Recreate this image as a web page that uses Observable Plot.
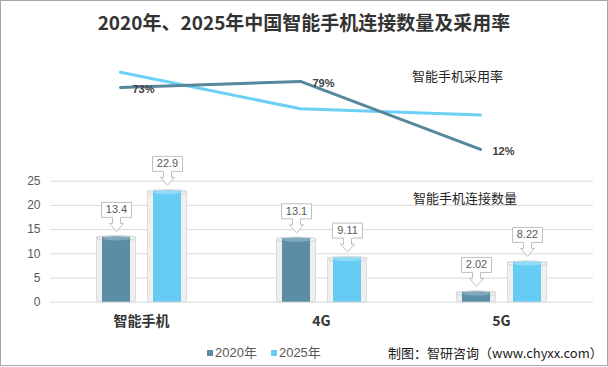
<!DOCTYPE html>
<html><head><meta charset="utf-8">
<script src="https://cdn.jsdelivr.net/npm/d3@7"></script>
<script src="https://cdn.jsdelivr.net/npm/@observablehq/plot@0.6"></script>
<style>
body{margin:0;background:#fff;}
#wrap{position:relative;width:606px;height:364px;border:1px solid #a6a6a6;overflow:hidden;background:#fff;
  font-family:"Liberation Sans","Noto Sans CJK SC",sans-serif;}
#wrap svg{position:absolute;left:-1px;top:-1px;}
.t{position:absolute;white-space:nowrap;}
#title{left:0;top:9px;width:606px;text-align:center;font-size:19px;line-height:24px;font-weight:bold;color:#333;font-family:"Noto Sans CJK SC",sans-serif;}
.note{font-size:13px;line-height:18px;color:#262626;font-family:"Noto Sans CJK SC",sans-serif;}
#legend{left:206px;top:343px;font-size:13px;line-height:18px;color:#595959;display:flex;gap:14px;font-family:"Liberation Sans","Noto Sans CJK SC",sans-serif;}
#legend span.sw{display:inline-block;width:6px;height:6px;margin-right:2px;vertical-align:1px;}
#caption{left:387px;top:342px;font-size:13px;line-height:20px;color:#1a1a1a;font-family:"Noto Sans CJK SC",sans-serif;}
</style></head><body>
<div id="wrap">
  <div class="t" id="title">2020年、2025年中国智能手机连接数量及采用率</div>
  <div class="t note" style="left:411px;top:66px;">智能手机采用率</div>
  <div class="t note" style="left:412px;top:188px;">智能手机连接数量</div>
  <div class="t" id="legend"></div>
  <div class="t" id="caption">制图：智研咨询（www.chyxx.com）</div>
</div>
<script>
const categories = ["智能手机", "4G", "5G"];
const years = ["2020年", "2025年"];
const connections2020 = [13.4, 13.1, 2.02];
const connections2025 = [22.9, 9.11, 8.22];
const adoption2020 = [73, 79, 12];
const adoption2025 = [88, 52, 46];
const yTicks = [0, 5, 10, 15, 20, 25];

const barColors = ["#5b8ea6", "#66ccf3"];
const capColors = ["#7fa9bc", "#8fdbf7"];
const lineColors = ["#55879d", "#6ccff6"];
const offsets = [-25, 26];

const bars = categories.flatMap((c, i) => [
  {cat: c, year: years[0], v: connections2020[i]},
  {cat: c, year: years[1], v: connections2025[i]}
]);
const rates = categories.flatMap((c, i) => [
  {cat: c, year: years[0], v: adoption2020[i]},
  {cat: c, year: years[1], v: adoption2025[i]}
]);

function ellipseSym(rx, ry) {
  const k = 0.5523;
  return {draw(ctx) {
    ctx.moveTo(rx, 0);
    ctx.bezierCurveTo(rx, ry * k, rx * k, ry, 0, ry);
    ctx.bezierCurveTo(-rx * k, ry, -rx, ry * k, -rx, 0);
    ctx.bezierCurveTo(-rx, -ry * k, -rx * k, -ry, 0, -ry);
    ctx.bezierCurveTo(rx * k, -ry, rx, -ry * k, rx, 0);
    ctx.closePath();
  }};
}
const callout = {draw(ctx) {
  ctx.moveTo(-15, -29); ctx.lineTo(15, -29); ctx.lineTo(15, -14);
  ctx.lineTo(4, -14); ctx.lineTo(4, -8); ctx.lineTo(7, -8); ctx.lineTo(0, 0);
  ctx.lineTo(-7, -8); ctx.lineTo(-4, -8); ctx.lineTo(-4, -14); ctx.lineTo(-15, -14);
  ctx.closePath();
}};

function seriesMarks(k) {
  const d = bars.filter(b => b.year === years[k]);
  const dx = offsets[k];
  return [
    Plot.barY(d, {x: "cat", y: "v", dx, insetLeft: -5.5, insetRight: -5.5, fill: "#efefef", stroke: "#dcdcdc"}),
    Plot.dot(d, {x: "cat", y: "v", dx, dy: 1, symbol: ellipseSym(19.5, 2.5), fill: "#f4f4f4", stroke: "#dcdcdc"}),
    Plot.barY(d, {x: "cat", y: "v", dx, fill: barColors[k]}),
    Plot.dot(d, {x: "cat", y: "v", dx, dy: 1, symbol: ellipseSym(14, 2.2), fill: capColors[k], stroke: "none"}),
    Plot.dot(d, {x: "cat", y: "v", dx, dy: -6, symbol: callout, fill: "white", stroke: "#bfbfbf", strokeWidth: 1}),
    Plot.text(d, {x: "cat", y: "v", dx, dy: -27.5, text: b => String(b.v), fontSize: 11, fill: "#595959"})
  ];
}

const barPlot = Plot.plot({
  width: 608, height: 367,
  marginLeft: 50, marginRight: 15, marginTop: 0, marginBottom: 65,
  style: {background: "none", maxWidth: "none", fontFamily: "Liberation Sans, Noto Sans CJK SC, sans-serif", color: "#595959"},
  x: {type: "band", domain: categories, range: [50, 593], paddingInner: 0.844, paddingOuter: 0.43, axis: null},
  y: {domain: [0, 25], range: [301.7, 180.7], axis: null},
  marks: [
    Plot.ruleY(yTicks, {stroke: "#d9d9d9"}),
    Plot.axisY({ticks: yTicks, tickSize: 0, tickPadding: 10, fontSize: 12, label: null}),
    ...seriesMarks(0),
    ...seriesMarks(1),
    Plot.text(categories, {x: c => c, y: categories.map(() => 0), dy: 19, text: c => c, fontSize: 14, fontWeight: "bold", fill: "#333",
      fontFamily: "Noto Sans CJK SC, sans-serif"})
  ]
});

const linePlot = Plot.plot({
  width: 608, height: 367,
  margin: 0,
  style: {background: "none", maxWidth: "none", fontFamily: "Liberation Sans, Noto Sans CJK SC, sans-serif"},
  x: {type: "point", domain: categories, range: [119, 480], padding: 0, axis: null},
  y: {domain: [0, 100], range: [161.1, 59.6], axis: null},
  marks: [
    Plot.line(rates.filter(r => r.year === years[1]), {x: "cat", y: "v", stroke: lineColors[1], strokeWidth: 3}),
    Plot.line(rates.filter(r => r.year === years[0]), {x: "cat", y: "v", stroke: lineColors[0], strokeWidth: 3}),
    Plot.text(rates.filter(r => r.year === years[0]), {x: "cat", y: "v", text: r => r.v + "%", dx: 12, dy: 2,
      textAnchor: "start", fontSize: 11, fontWeight: "bold", fill: "#404040"})
  ]
});

const wrap = document.getElementById("wrap");
wrap.insertBefore(barPlot, wrap.firstChild);
wrap.insertBefore(linePlot, barPlot.nextSibling);

const legend = document.getElementById("legend");
years.forEach((y, k) => {
  const item = document.createElement("div");
  item.innerHTML = `<span class="sw" style="background:${barColors[k]}"></span>${y}`;
  legend.appendChild(item);
});
</script>
</body></html>
